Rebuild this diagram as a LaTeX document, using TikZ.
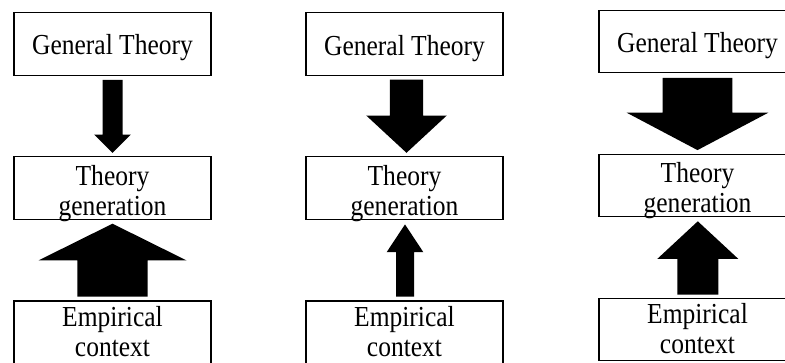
\documentclass[tikz,border=0pt]{standalone}
\usepackage{fontspec}
\usepackage{graphicx}
\setmainfont{Liberation Serif}
\usetikzlibrary{calc}

% Filled block arrow from #1 (shaft end) to #2 (tip):
% #3 half shaft width, #4 half head width, #5 head length (all in pt)
\newcommand\blockarrow[5]{%
  \fill let \p1=(#1), \p2=(#2), \n1={ifthenelse(\y2>\y1,1,-1)} in
    (\x1-#3pt,\y1) -- (\x1+#3pt,\y1) -- (\x1+#3pt,\y2-\n1*#5pt)
    -- (\x1+#4pt,\y2-\n1*#5pt) -- (\x2,\y2) -- (\x1-#4pt,\y2-\n1*#5pt)
    -- (\x1-#3pt,\y2-\n1*#5pt) -- cycle;}

% narrow setting of one line of label text
\newcommand\nw[1]{\scalebox{0.88}[1]{#1}}

\tikzset{
  box/.style={draw=black, line width=1.2pt, fill=white, inner sep=0pt,
    minimum width=197pt, minimum height=63pt},
  boxr/.style={box, minimum height=62pt},
  txt/.style={inner sep=0pt, align=center,
    font=\fontsize{29}{30}\selectfont},
}

\begin{document}
\begin{tikzpicture}[x=1pt, y=-1pt]
  \useasboundingbox[fill=white] (0,0) rectangle (785,362);

  % boxes
  \node[box]  (gt1) at (112.5,44)    {};
  \node[box]  (tg1) at (112.5,188.3) {};
  \node[box]  (ec1) at (112.5,332.5) {};
  \node[box]  (gt2) at (404.5,44.2)  {};
  \node[box]  (tg2) at (404.5,188.3) {};
  \node[box]  (ec2) at (404.5,332.5) {};
  \node[boxr] (gt3) at (697.5,41.5)  {};
  \node[boxr] (tg3) at (697.5,185.7) {};
  \node[boxr] (ec3) at (697.5,329.5) {};

  % box texts
  \foreach \c in {1,2,3} {
    \node[txt] (gt\c t) at ($(gt\c.center)+(0,4)$)    {\nw{General Theory}};
    \node[txt] (tg\c t) at ($(tg\c.center)+(0,5)$)    {\nw{Theory}\\\nw{generation}};
    \node[txt] (ec\c t) at ($(ec\c.center)+(0,-1)$)   {\nw{Empirical}\\\nw{context}};
  }

  % arrows, left column
  \blockarrow{$(gt1.south)+(0,3.7)$}{$(tg1.north)+(0,-3.4)$}{10}{18.3}{18.3}
  \blockarrow{$(ec1.north)+(0,-3.7)$}{$(tg1.south)+(0,3.3)$}{35.2}{74}{36.7}

  % arrows, middle column
  \blockarrow{$(gt2.south)+(2,3.3)$}{$(tg2.north)+(2,-3.4)$}{16.7}{40.3}{37.3}
  \blockarrow{$(ec2.north)+(0.5,-3.7)$}{$(tg2.south)+(0.5,4)$}{9}{18.3}{27.7}

  % arrows, right column
  \blockarrow{$(gt3.south)+(0,4.7)$}{$(tg3.north)+(0,-4)$}{34.8}{70.8}{37.4}
  \blockarrow{$(ec3.north)+(0.3,-3.3)$}{$(tg3.south)+(0.3,4)$}{20.5}{40.5}{37.6}
\end{tikzpicture}
\end{document}
